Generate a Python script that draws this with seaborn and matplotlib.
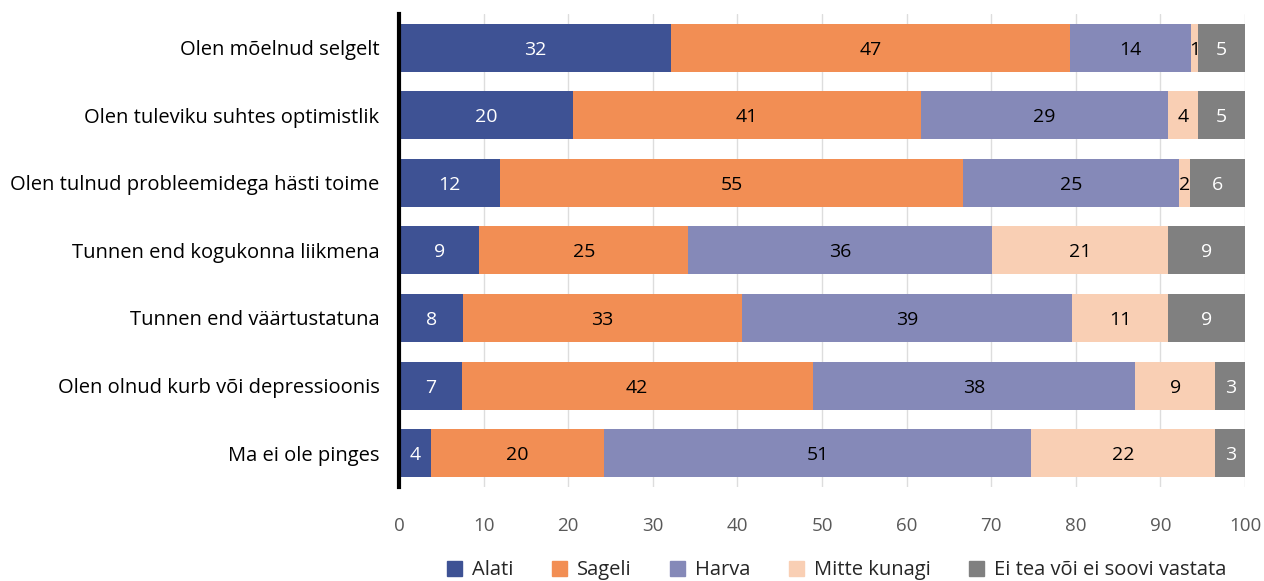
import numpy as np
import pandas as pd
import matplotlib.pyplot as plt
import seaborn as sns

# data (percent shares per statement)
statements = [
    "Olen mõelnud selgelt",
    "Olen tuleviku suhtes optimistlik",
    "Olen tulnud probleemidega hästi toime",
    "Tunnen end kogukonna liikmena",
    "Tunnen end väärtustatuna",
    "Olen olnud kurb või depressioonis",
    "Ma ei ole pinges",
]
categories = ["Alati", "Sageli", "Harva", "Mitte kunagi", "Ei tea või ei soovi vastata"]

alati = [32.2, 20.6, 11.9, 9.5, 7.6, 7.4, 3.8]
sageli = [47.1, 41.1, 54.8, 24.7, 32.9, 41.5, 20.4]
harva = [14.3, 29.2, 25.5, 35.9, 39.1, 38.1, 50.5]
mitte = [0.8, 3.5, 1.3, 20.8, 11.3, 9.5, 21.8]
eitea = [5.6, 5.6, 6.5, 9.1, 9.1, 3.5, 3.5]

# printed labels (rounded in source)
lab_alati = [32, 20, 12, 9, 8, 7, 4]
lab_sageli = [47, 41, 55, 25, 33, 42, 20]
lab_harva = [14, 29, 25, 36, 39, 38, 51]
lab_mitte = [1, 4, 2, 21, 11, 9, 22]
lab_eitea = [5, 5, 6, 9, 9, 3, 3]

colors = ["#3E5294", "#F28E54", "#8589B8", "#F9CFB4", "#808080"]
text_colors = ["white", "black", "black", "black", "white"]

series = [alati, sageli, harva, mitte, eitea]
labels = [lab_alati, lab_sageli, lab_harva, lab_mitte, lab_eitea]

df = pd.DataFrame(dict(zip(categories, series)), index=statements)
cum = df.cumsum(axis=1)

sns.set_style("white")
plt.rcParams['font.family'] = ['Open Sans', 'DejaVu Sans']

fig = plt.figure(figsize=(12.64, 5.81), dpi=100)
ax = fig.add_axes([0.3157, 0.162, 0.6693, 0.814])

# stacked bars: draw cumulative totals from the last segment back to the first
for i in reversed(range(len(categories))):
    d = pd.DataFrame({"statement": statements, "value": cum.iloc[:, i].values})
    sns.barplot(data=d, x="value", y="statement", color=colors[i], width=0.71,
                saturation=1, ax=ax, zorder=2, edgecolor="none", linewidth=0)

# segment labels
for i in range(len(categories)):
    starts = cum.iloc[:, i].values - df.iloc[:, i].values
    mids = starts + df.iloc[:, i].values / 2
    for r in range(len(statements)):
        ax.text(mids[r], r + 0.03, str(labels[i][r]), ha="center", va="center",
                fontsize=14, color=text_colors[i], zorder=3)

ax.set_xlim(0, 100)
ax.set_ylim(6.5, -0.5)
ax.set_xticks(range(0, 101, 10))
ax.xaxis.grid(True, color="#DDDDDD", linewidth=1, zorder=0)
ax.set_axisbelow(True)
ax.set_xlabel("")
ax.set_ylabel("")
for s in ["top", "right", "bottom"]:
    ax.spines[s].set_visible(False)
ax.spines["left"].set_linewidth(3)
ax.spines["left"].set_color("black")
ax.tick_params(axis="x", length=0, pad=22, labelsize=13.5, labelcolor="#595959")
ax.tick_params(axis="y", length=0, pad=14, labelsize=14.5, labelcolor="black")

handles = [plt.Rectangle((0, 0), 1, 1, color=c) for c in colors]
fig.legend(handles, categories, loc="lower center", ncol=5, frameon=False,
           fontsize=14.5, bbox_to_anchor=(0.662, -0.03), handlelength=0.75,
           handleheight=0.75, columnspacing=1.9, handletextpad=0.5)

fig.savefig("out.png", dpi=100)
